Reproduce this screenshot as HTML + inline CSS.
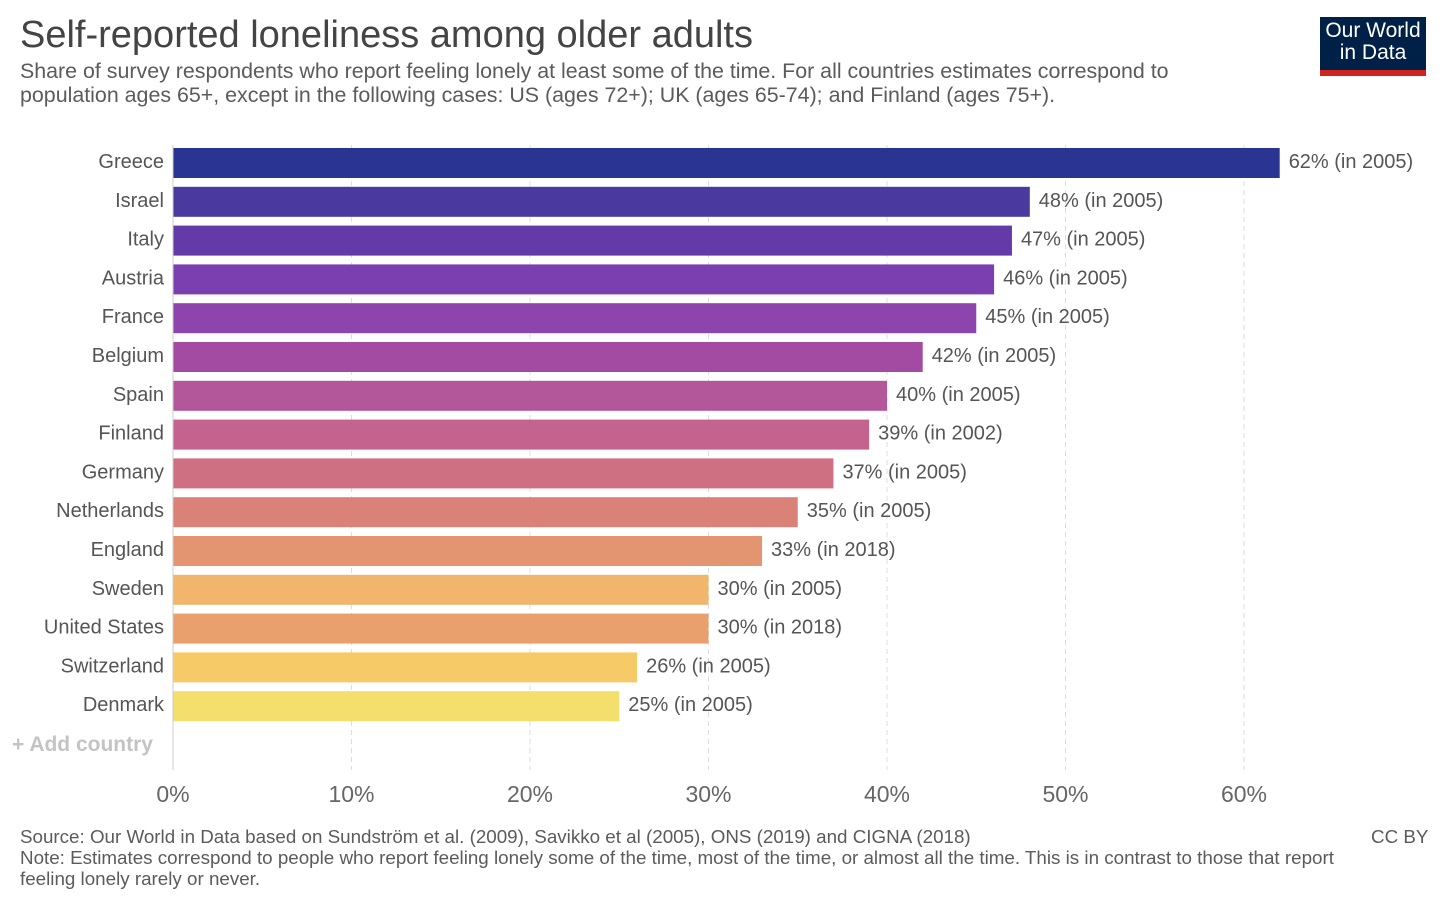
<!DOCTYPE html>
<html><head><meta charset="utf-8"><style>
body{margin:0;width:1456px;height:905px;background:#fff;font-family:"Liberation Sans",sans-serif;position:relative;overflow:hidden}
.t{position:absolute;white-space:nowrap}
</style></head><body>
<div class="t" style="left:20px;top:14px;font-size:38px;color:#444">Self-reported loneliness among older adults</div>
<div class="t" style="left:20px;top:59px;font-size:21.4px;color:#5b5b5b;line-height:24px">Share of survey respondents who report feeling lonely at least some of the time. For all countries estimates correspond to<br>population ages 65+, except in the following cases: US (ages 72+); UK (ages 65-74); and Finland (ages 75+).</div>
<div style="position:absolute;left:1320px;top:17px;width:106px;height:59px;background:#002147">
<div style="position:absolute;left:0;right:0;bottom:0;height:6px;background:#ce261e"></div>
<div style="position:absolute;left:0;right:0;top:3px;text-align:center;color:#fff;font-size:21px;line-height:22px">Our World<br>in Data</div></div>
<svg id="chart" width="1456" height="905" style="position:absolute;left:0;top:0"></svg>
<div class="t" style="left:20px;top:826px;font-size:18.8px;color:#5b5b5b;line-height:21px">Source: Our World in Data based on Sundström et al. (2009), Savikko et al (2005), ONS (2019) and CIGNA (2018)<br>Note: Estimates correspond to people who report feeling lonely some of the time, most of the time, or almost all the time. This is in contrast to those that report<br>feeling lonely rarely or never.</div>
<div class="t" style="left:1371px;top:826px;font-size:18.8px;color:#5b5b5b">CC BY</div>
<script>
const countries=["Greece","Israel","Italy","Austria","France","Belgium","Spain","Finland","Germany","Netherlands","England","Sweden","United States","Switzerland","Denmark"];
const values=[62,48,47,46,45,42,40,39,37,35,33,30,30,26,25];
const years=[2005,2005,2005,2005,2005,2005,2005,2002,2005,2005,2018,2005,2018,2005,2005];
const colors=["#2a3593","#4a3a9f","#6439a8","#7b3fb0","#8e44ad","#a34ba3","#b4579a","#c4638e","#cf7082","#da8278","#e39470","#f1b66b","#e9a06c","#f6ca66","#f5df6c"];
const ticks=[0,10,20,30,40,50,60];
const svg=document.getElementById('chart');const NS="http://www.w3.org/2000/svg";
const x=v=>173+v*17.85;const y=i=>148+i*38.8;
function mk(t,a){const e=document.createElementNS(NS,t);for(const k in a)e.setAttribute(k,a[k]);svg.appendChild(e);return e;}
ticks.forEach(t=>{
 if(t>0){const l=mk('line',{x1:x(t),x2:x(t),y1:145,y2:770,stroke:'#ddd','stroke-dasharray':'5,4'});
 
 }
 const tx=mk('text',{x:x(t),y:802,'text-anchor':'middle','font-size':23,fill:'#666','font-family':'Liberation Sans'});tx.textContent=t+'%';
 
 
});
countries.forEach((c,i)=>{
 const r=mk('rect',{x:x(0),y:y(i),width:x(values[i])-x(0),height:30,fill:colors[i]});
 
 
 const lb=mk('text',{x:164,y:y(i)+20,'text-anchor':'end','font-size':20,fill:'#555','font-family':'Liberation Sans'});lb.textContent=c;
 
 
 const v=mk('text',{x:x(values[i])+9,y:y(i)+20,'font-size':20,fill:'#555','font-family':'Liberation Sans'});v.textContent=values[i]+'% (in '+years[i]+')';
 
 
});
const ax=mk('line',{x1:173,x2:173,y1:145,y2:770,stroke:'#ccc'});


const ad=mk('text',{x:12,y:751,'font-size':21,'font-weight':'bold',fill:'#c4c4c4','font-family':'Liberation Sans'});ad.textContent='+ Add country';


</script>
</body></html>
